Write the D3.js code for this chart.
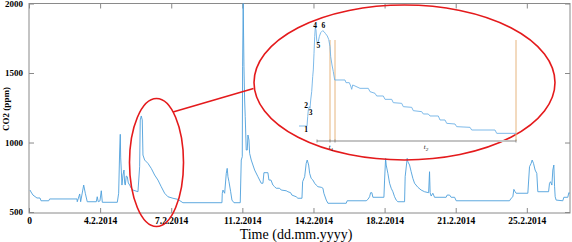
<!DOCTYPE html>
<html>
<head>
<meta charset="utf-8">
<script src="https://cdn.jsdelivr.net/npm/d3@7"></script>
<style>
  body { margin: 0; background: #fff; }
  svg { display: block; font-family: "Liberation Serif", "Times New Roman", serif; }
</style>
</head>
<body>
<div class="co2Chart"></div>
<script>
// Main series: hours from start of the record and CO2 in ppm
const hours = [1.2, 2.4, 4.7, 9.4, 13, 14.2, 23.3, 24.4, 56.7, 57, 59.9, 61, 64.6, 66.5, 68.8, 79.5, 80.6, 81.8, 83.8, 85.4, 86.6,
  104.3, 105.9, 107.1, 107.8, 108.3, 109, 109.8, 111, 112.2, 113, 113.7, 114.9, 116.1, 117.3, 118.9, 120.8, 122.8, 128.7,
  130.7, 131.4, 132.6, 133.8, 134.6, 136.6, 140.5, 144.4, 148.4, 152.3, 156.2, 160.2, 164.1, 170, 175.9, 181.8,
  227.9, 228.3, 229.1, 231.1, 233, 234.1, 235, 236.2, 238.2, 239.7, 242.1, 249.5, 250.7, 251.9, 252.3, 253, 253.9, 254.7,
  255.4, 256.6, 257.8, 258.6, 259.8, 260.6, 262.5, 266.5, 270.4, 274.3, 276.3, 277.5, 282.2, 283.4, 285.8, 288.1, 290.1,
  292, 296, 297.9, 303.8, 305.8, 309, 310.5, 315.6, 317.6, 322.4, 323.2, 325.6, 327.4, 328.6, 330.3, 331.5, 333.3, 335.3,
  337.4, 339.2, 341.3, 345.2, 347.2, 348.3, 351.1, 353.1, 374.7, 375.8, 398.3, 400.3, 402.3, 403.5, 405, 406.2, 419.2,
  420, 421.2, 421.9, 423.9, 425.9, 427.8, 429.8, 431.8, 433.7, 435.7, 443.6, 444.3, 446.7, 447.5, 449.5, 451.4, 453.4,
  455.4, 459.3, 463.2, 467.2, 472, 473.1, 473.8, 475, 477, 479, 492.7, 493.9, 496.8, 498.6, 502.7, 504.6, 567.6, 569.5,
  571.5, 572.7, 574.2, 575.4, 589.2, 591.2, 593.1, 594.3, 595.9, 597.8, 599.8, 601, 613.7, 614.8, 616, 617.6, 618.7,
  619.9, 620.8, 621.5, 622.6, 630.5, 631.7, 636.4, 637.6, 638.8];
const co2 = [658, 644, 622, 601, 601, 581, 581, 594, 594, 574, 630, 574, 694, 635, 574, 574, 610, 574, 580, 653, 570,
  570, 635, 946, 1059, 889, 802, 694, 766, 802, 709, 694, 759, 754, 709, 694, 671, 658, 646,
  826, 1162, 1191, 1162, 910, 874, 850, 814, 766, 730, 682, 635, 610, 599, 591, 567,
  567, 635, 658, 635, 778, 814, 754, 718, 646, 586, 567, 567, 874, 898, 1545, 2000, 1545, 1306,
  1186, 946, 946, 1054, 1018, 922, 874, 802, 754, 707, 707, 783, 783, 730, 730, 694, 682,
  671, 671, 658, 653, 646, 639, 622, 610, 599, 599, 718, 754, 850, 874, 838, 778, 742, 730,
  707, 694, 682, 678, 671, 635, 586, 563, 563, 581, 581, 591, 610, 639, 639, 606, 606,
  730, 886, 838, 778, 707, 671, 646, 610, 586, 574, 574, 754, 886, 862, 838, 790, 742,
  707, 678, 658, 646, 639, 790, 639, 615, 635, 606, 606, 622, 622, 606, 606, 581, 581, 599,
  610, 663, 646, 635, 635, 826, 850, 874, 850, 802, 778, 646, 646, 707, 718, 694, 802,
  838, 682, 610, 586, 581, 606, 606, 639, 635];

// Axis ticks
const xTickHours = [0, 84, 168, 252, 336, 420, 504, 588];
const xTickLabels = ["0", "4.2.2014", "7.2.2014", "11.2.2014", "14.2.2014", "18.2.2014", "21.2.2014", "25.2.2014"];
const yTicks = [500, 1000, 1500, 2000];

// Magnified event (inset): relative time and CO2 in ppm
const insetTime = [0, 8, 8.7, 9.3, 10.3, 11, 11.7, 12.7, 13.7, 14.3, 15, 15.7, 16.3, 17, 17.7, 18.3, 19.3, 20.3, 21.7,
  23.7, 25, 26.3, 28.3, 29.7, 31, 31.7, 33, 34.3, 35.7, 46, 47, 50.3, 51.7, 52.7, 53.7, 56, 61, 69.3, 71, 76, 77.7,
  84.3, 86, 92.7, 94.3, 102.7, 104.3, 112.7, 114.3, 122.7, 124.3, 129.3, 131, 139.3, 141, 146, 147.7, 156, 157.7,
  171, 172.7, 196, 197.7, 217];
const insetCo2 = [590, 590, 646, 686, 706, 696, 746, 796, 886, 926, 1026, 1126, 1182, 1166, 1106, 1086, 1096, 1126, 1150,
  1162, 1156, 1146, 1130, 1110, 1066, 1006, 956, 916, 866, 866, 850, 850, 830, 810, 836, 830, 816, 816, 796, 786, 770,
  770, 750, 750, 730, 726, 706, 702, 682, 676, 662, 662, 650, 650, 626, 626, 606, 602, 586,
  582, 566, 566, 546, 546];
const phaseLabels = ["1", "2", "3", "4", "5", "6"];
const phaseTime = [7, 7, 11.7, 16, 19.3, 24.3];
const phaseCo2 = [572, 716, 670, 1196, 1072, 1196];
const markerTimes = [31, 36, 217];
const intervalLabels = ["t", "t"];
const intervalSubs = ["1", "2"];
const intervalTime = [32, 127];

const width = 572, height = 242;
const plot = { left: 29, right: 570, top: 3.5, bottom: 213 };

const svg = d3.select(".co2Chart")
  .append("svg")
  .attr("width", width)
  .attr("height", height);

const x = d3.scaleLinear().domain([0, 639]).range([plot.left, plot.right]);
const y = d3.scaleLinear().domain([493, 2000]).range([plot.bottom, plot.top]);

const axisColor = "#8a8a8a";

// Box around the plot area
svg.append("rect")
  .attr("x", plot.left).attr("y", plot.top)
  .attr("width", plot.right - plot.left).attr("height", plot.bottom - plot.top)
  .attr("fill", "none").attr("stroke", axisColor).attr("stroke-width", 1);

// Bottom axis with inward ticks
const xAxis = svg.append("g")
  .attr("transform", `translate(0,${plot.bottom})`)
  .call(d3.axisBottom(x).tickValues(xTickHours).tickSize(-5).tickPadding(4)
    .tickFormat((d, i) => xTickLabels[i]));
xAxis.select(".domain").remove();
xAxis.selectAll("line").attr("stroke", axisColor);
xAxis.selectAll("text").attr("fill", "#000").style("font-size", "9.5px").style("font-weight", "bold")
  .style("font-family", "Liberation Serif, serif");

// Top ticks
const xTop = svg.append("g")
  .attr("transform", `translate(0,${plot.top})`)
  .call(d3.axisTop(x).tickValues(xTickHours).tickSize(-5).tickFormat(""));
xTop.select(".domain").remove();
xTop.selectAll("line").attr("stroke", axisColor);

// Left axis
const yAxis = svg.append("g")
  .attr("transform", `translate(${plot.left},0)`)
  .call(d3.axisLeft(y).tickValues(yTicks).tickSize(-5).tickPadding(6).tickFormat(d3.format("d")));
yAxis.select(".domain").remove();
yAxis.selectAll("line").attr("stroke", axisColor);
yAxis.selectAll("text").attr("fill", "#000").style("font-size", "9px").style("font-weight", "bold")
  .style("font-family", "Liberation Serif, serif");

// Right ticks
const yRight = svg.append("g")
  .attr("transform", `translate(${plot.right},0)`)
  .call(d3.axisRight(y).tickValues(yTicks).tickSize(-5).tickFormat(""));
yRight.select(".domain").remove();
yRight.selectAll("line").attr("stroke", axisColor);

// Axis titles
svg.append("text")
  .attr("x", 296).attr("y", 238.5)
  .attr("text-anchor", "middle")
  .style("font-size", "14px")
  .text("Time (dd.mm.yyyy)");

svg.append("text")
  .attr("transform", "translate(9,109) rotate(-90)")
  .attr("text-anchor", "middle")
  .style("font-size", "9px").style("font-weight", "bold")
  .text("CO2 (ppm)");

// Main CO2 line
const series = hours.map((h, i) => ({ h: h, v: co2[i] }));
svg.append("path")
  .datum(series)
  .attr("fill", "none")
  .attr("stroke", "#4d9fdb")
  .attr("stroke-width", 0.9)
  .attr("d", d3.line().x(d => x(d.h)).y(d => y(d.v)));

// Red highlight ellipses and connector
const red = "#e41a1c";
svg.append("ellipse")
  .attr("cx", 156.5).attr("cy", 162.5).attr("rx", 27).attr("ry", 64)
  .attr("fill", "none").attr("stroke", red).attr("stroke-width", 1.6);
svg.append("line")
  .attr("x1", 173).attr("y1", 112).attr("x2", 253.5).attr("y2", 88.5)
  .attr("stroke", red).attr("stroke-width", 1.6);
svg.append("ellipse")
  .attr("cx", 404.5).attr("cy", 82.5).attr("rx", 150.5).attr("ry", 77.5)
  .attr("fill", "none").attr("stroke", red).attr("stroke-width", 1.6);

// Inset: magnified view of the event
const ix = d3.scaleLinear().domain([0, 217]).range([299, 516]);
const iy = d3.scaleLinear().domain([500, 1200]).range([141, 24.33]);

// time axis of the inset
svg.append("line")
  .attr("x1", ix(18)).attr("x2", ix(217)).attr("y1", iy(500)).attr("y2", iy(500))
  .attr("stroke", "#c4c4c4").attr("stroke-width", 2);

// orange markers
svg.selectAll(".marker")
  .data(markerTimes)
  .enter().append("line")
  .attr("x1", d => ix(d)).attr("x2", d => ix(d))
  .attr("y1", iy(1106)).attr("y2", iy(500))
  .attr("stroke", "#e6b57e").attr("stroke-width", 1);

svg.selectAll(".tmark")
  .data([18].concat(markerTimes))
  .enter().append("line")
  .attr("x1", d => ix(d)).attr("x2", d => ix(d))
  .attr("y1", iy(500) - 1.5).attr("y2", iy(500) + 1.5)
  .attr("stroke", "#777").attr("stroke-width", 0.8);

const insetSeries = insetTime.map((t, i) => ({ t: t, v: insetCo2[i] }));
svg.append("path")
  .datum(insetSeries)
  .attr("fill", "none")
  .attr("stroke", "#6fb2e6")
  .attr("stroke-width", 0.9)
  .attr("d", d3.line().x(d => ix(d.t)).y(d => iy(d.v)));

// phase numbers
svg.selectAll(".phase")
  .data(phaseLabels)
  .enter().append("text")
  .attr("x", (d, i) => ix(phaseTime[i]))
  .attr("y", (d, i) => iy(phaseCo2[i]))
  .attr("dy", "0.35em")
  .attr("text-anchor", "middle")
  .style("font-size", "7.5px").style("font-weight", "bold")
  .text(d => d);

// interval labels t1, t2
const tl = svg.selectAll(".tlabel")
  .data(intervalLabels)
  .enter().append("text")
  .attr("x", (d, i) => ix(intervalTime[i]))
  .attr("y", iy(500) + 8)
  .attr("text-anchor", "middle")
  .style("font-size", "6.5px").style("font-style", "italic");
tl.append("tspan").text(d => d);
tl.append("tspan").attr("dy", 1.5).style("font-size", "5px").text((d, i) => intervalSubs[i]);
</script>
</body>
</html>
